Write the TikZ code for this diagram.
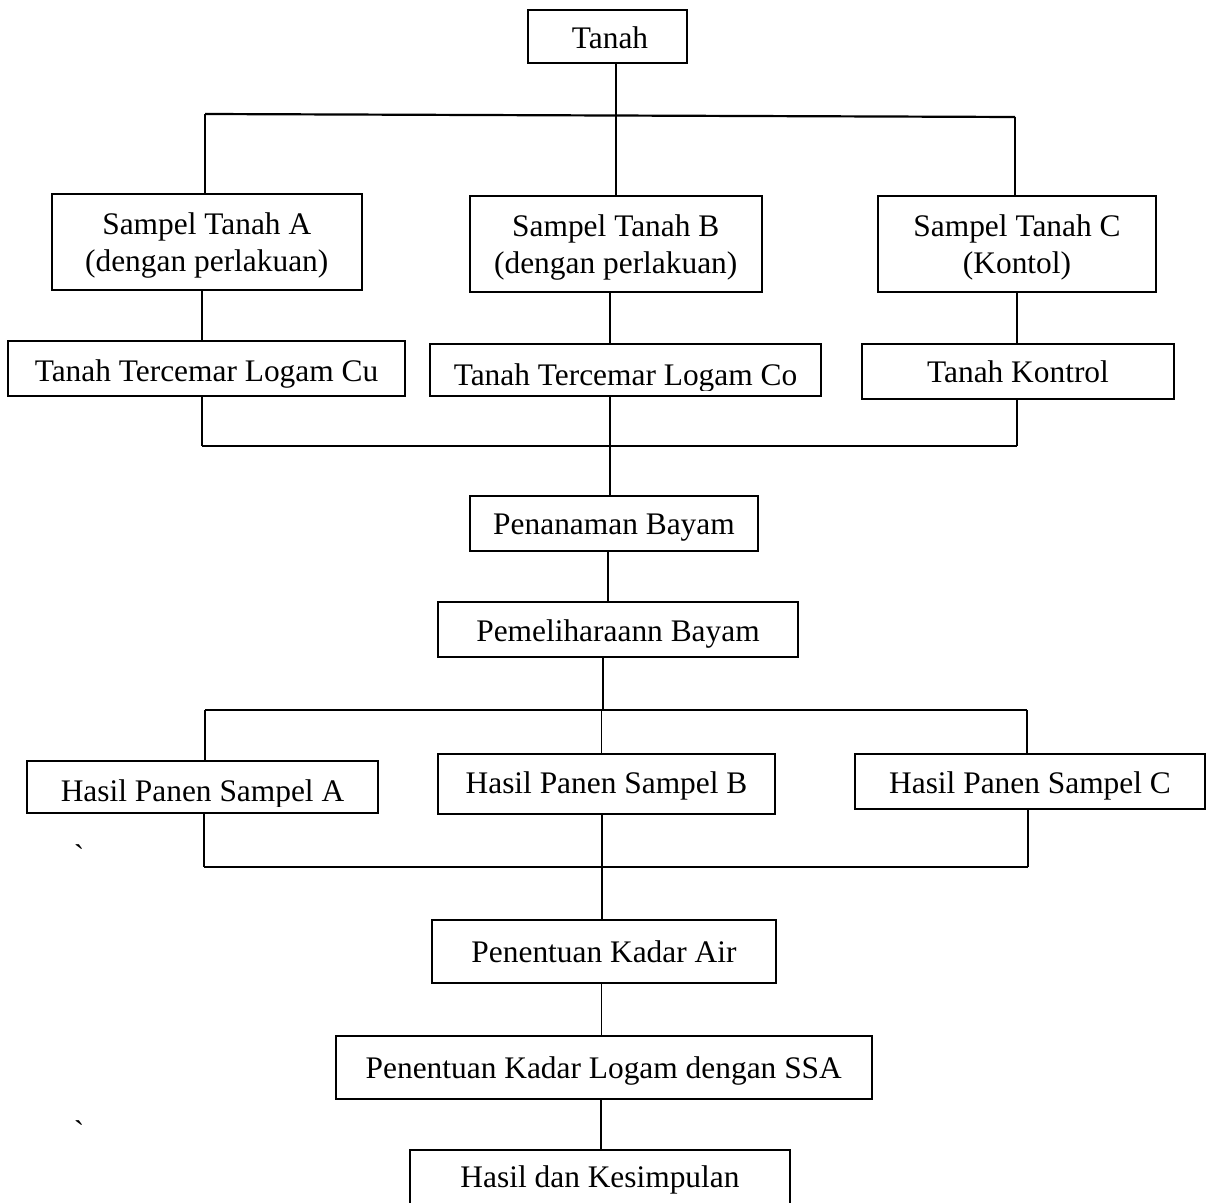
\documentclass[tikz,border=0pt]{standalone}
\usepackage{fontspec}
\setmainfont{Liberation Serif}
\newfontfamily\rawserif{Liberation Serif}
\begin{document}
\begin{tikzpicture}[x=0.5pt,y=-0.5pt,
  bx/.style={draw,line width=1pt,inner sep=0pt,rectangle},
  tx/.style={anchor=base,inner sep=0pt,font=\fontsize{15.7pt}{18pt}\selectfont},
  cn/.style={line width=0.8pt},
  bus/.style={line width=1.1pt}]
\useasboundingbox (0,0) rectangle (1206,1203);
% boxes
\node[bx,minimum width=79.5pt,minimum height=26.5pt] (tanah) at (607.5,36.5) {};
\node[bx,minimum width=155.25pt,minimum height=48pt] (sa) at (206.75,242) {};
\node[bx,minimum width=145.75pt,minimum height=48pt] (sb) at (615.75,244) {};
\node[bx,minimum width=139pt,minimum height=48pt] (sc) at (1017,244) {};
\node[bx,minimum width=198.5pt,minimum height=27.5pt] (cu) at (206.5,368.5) {};
\node[bx,minimum width=195.5pt,minimum height=26pt] (co) at (625.5,370) {};
\node[bx,minimum width=156pt,minimum height=27.5pt] (ko) at (1018,371.5) {};
\node[bx,minimum width=144pt,minimum height=27.5pt] (pen) at (614,523.5) {};
\node[bx,minimum width=180pt,minimum height=27.5pt] (pem) at (618,629.5) {};
\node[bx,minimum width=175.5pt,minimum height=26pt] (ha) at (202.5,787) {};
\node[bx,minimum width=168.5pt,minimum height=30pt] (hb) at (606.5,784) {};
\node[bx,minimum width=175pt,minimum height=27.5pt] (hc) at (1030,781.5) {};
\node[bx,minimum width=172pt,minimum height=31.5pt] (air) at (604,951.5) {};
\node[bx,minimum width=267.75pt,minimum height=31.5pt] (ssa) at (603.75,1067.5) {};
\node[bx,minimum width=190pt,minimum height=28pt] (kes) at (600,1178) {};
% texts
\node[tx] (t-tanah) at (610,49) {Tanah};
\node[tx] (t-sa1) at (206.75,235) {Sampel Tanah A};
\node[tx] (t-sa2) at (206.75,272) {(dengan perlakuan)};
\node[tx] (t-sb1) at (615.75,237) {Sampel Tanah B};
\node[tx] (t-sb2) at (615.75,274) {(dengan perlakuan)};
\node[tx] (t-sc1) at (1017,237) {Sampel Tanah C};
\node[tx] (t-sc2) at (1017,274) {(Kontol)};
\node[tx] (t-cu) at (206.5,382) {Tanah Tercemar Logam Cu};
\begin{scope}
\clip (429,345) rectangle (822,391);
\node[tx] (t-co) at (625.5,386) {Tanah Tercemar Logam Co};
\end{scope}
\node[tx] (t-ko) at (1018,383) {Tanah Kontrol};
\node[tx] (t-pen) at (614,535) {Penanaman Bayam};
\node[tx] (t-pem) at (618,642) {Pemeliharaann Bayam};
\begin{scope}
\clip (26,762) rectangle (379,806);
\node[tx] (t-ha) at (202.5,801) {Hasil Panen Sampel A};
\end{scope}
\node[tx] (t-hb) at (606.5,793) {Hasil Panen Sampel B};
\node[tx] (t-hc) at (1030,793) {Hasil Panen Sampel C};
\node[tx] (t-air) at (604,962) {Penentuan Kadar Air};
\node[tx] (t-ssa) at (603.75,1078) {Penentuan Kadar Logam dengan SSA};
\node[tx] (t-kes) at (600,1187) {Hasil dan Kesimpulan};
\node[tx] (bt1) at (79,866) {\rawserif\symbol{"60}};
\node[tx] (bt2) at (79,1142) {\rawserif\symbol{"60}};
% coordinates for connectors
\coordinate (j1) at (616,115.5);
\coordinate (b1a) at (205,114);
\coordinate (b1c) at (1015,117);
\coordinate (xa2) at (202,446);
\coordinate (xb2) at (610,446);
\coordinate (xc2) at (1017,446);
\coordinate (xp) at (608,0);
\coordinate (xq) at (603,710);
\coordinate (b3a) at (205,710);
\coordinate (b3b) at (601.5,710);
\coordinate (b3c) at (1027,710);
\coordinate (b4a) at (204,867);
\coordinate (b4b) at (602,867);
\coordinate (b4c) at (1028,867);
\coordinate (xr) at (601.5,0);
\coordinate (xs) at (600.7,0);
% level 1
\draw[cn] (tanah.south -| j1) -- (j1);
\draw[bus] (b1a) -- (b1c);
\draw[cn] (b1a) -- (sa.north -| b1a);
\draw[cn] (j1) -- (sb.north -| j1);
\draw[cn] (b1c) -- (sc.north -| b1c);
% level 2
\draw[cn] (sa.south -| xa2) -- (cu.north -| xa2);
\draw[cn] (sb.south -| xb2) -- (co.north -| xb2);
\draw[cn] (sc.south -| xc2) -- (ko.north -| xc2);
% bus 2
\draw[cn] (cu.south -| xa2) -- (xa2);
\draw[cn] (ko.south -| xc2) -- (xc2);
\draw[bus] (xa2) -- (xc2);
\draw[cn] (co.south -| xb2) -- (pen.north -| xb2);
\draw[cn] (pen.south -| xp) -- (pem.north -| xp);
% bus 3
\draw[cn] (pem.south -| xq) -- (xq);
\draw[bus] (b3a) -- (b3c);
\draw[cn] (b3a) -- (ha.north -| b3a);
\draw[cn] (b3b) -- (hb.north -| b3b);
\draw[cn] (b3c) -- (hc.north -| b3c);
% bus 4
\draw[cn] (ha.south -| b4a) -- (b4a);
\draw[cn] (hc.south -| b4c) -- (b4c);
\draw[bus] (b4a) -- (b4c);
\draw[cn] (hb.south -| b4b) -- (air.north -| b4b);
\draw[cn] (air.south -| xr) -- (ssa.north -| xr);
\draw[cn] (ssa.south -| xs) -- (kes.north -| xs);
\end{tikzpicture}
\end{document}
